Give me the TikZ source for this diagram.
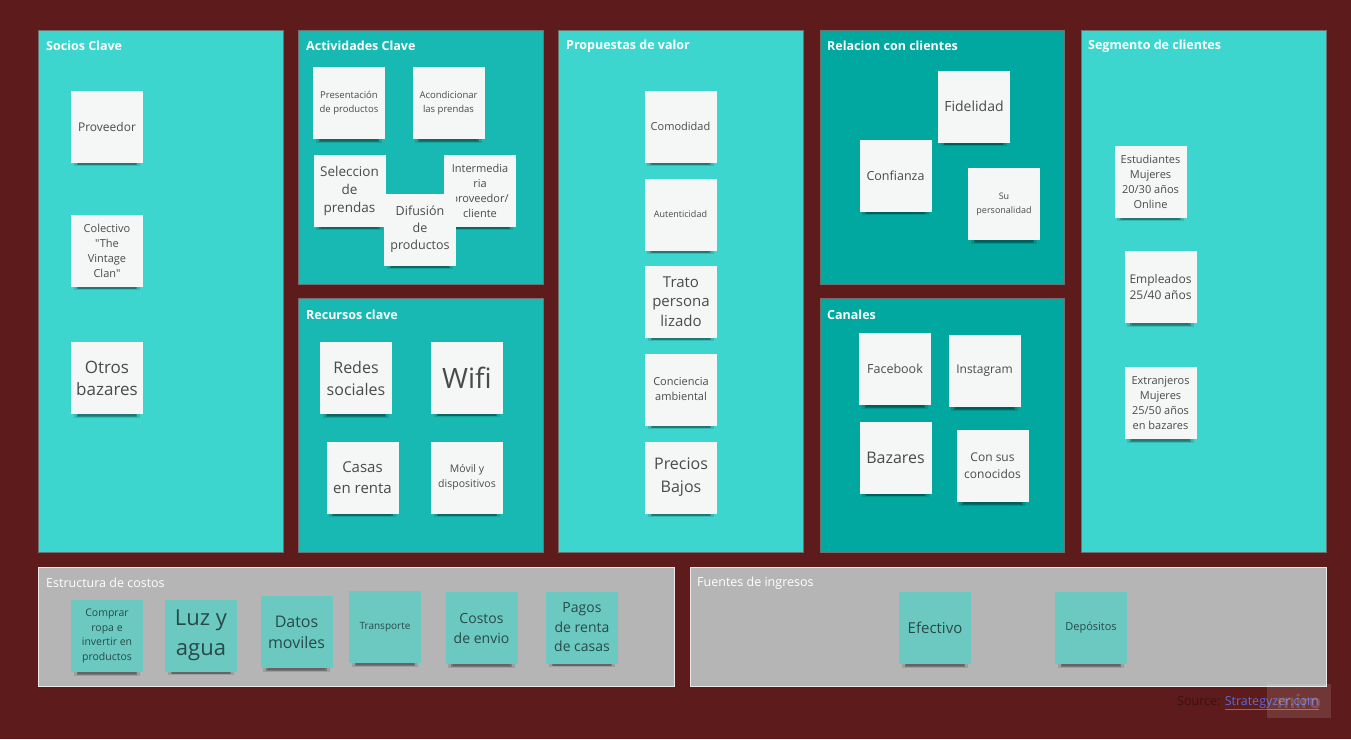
\documentclass[tikz,border=0pt]{standalone}
\usepackage{fontspec}
\setmainfont{Open Sans}[Ligatures=TeXOff]
\usetikzlibrary{shadows}
\definecolor{bgc}{HTML}{5E1B1B}
\definecolor{tealL}{HTML}{3DD6CF}
\definecolor{tealM}{HTML}{17B9B2}
\definecolor{tealD}{HTML}{00A8A0}
\definecolor{greyP}{HTML}{B5B5B5}
\definecolor{pborder}{HTML}{707070}
\definecolor{stickW}{HTML}{F5F7F7}
\definecolor{stickT}{HTML}{6BC9C2}
\definecolor{txtW}{HTML}{4A4A4A}
\definecolor{txtT}{HTML}{274A47}
\definecolor{linkc}{HTML}{5B6BD6}
\definecolor{srcc}{HTML}{3A1212}
\newcommand{\stk}[6][sticky]{\node[#1,font={\fontsize{#5}{#6}\selectfont}] (#2) at (#3) {#4};}
\begin{document}
\begin{tikzpicture}[x=1pt,y=-1pt,
  panel/.style={draw=pborder,line width=0.6pt},
  ptitle/.style={anchor=west,text=white,font={\fontsize{12.5}{14}\selectfont\bfseries},inner sep=0pt},
  sticky/.style={fill=stickW,minimum width=72pt,minimum height=72pt,inner sep=1pt,align=center,text=txtW,
    preaction={general shadow={shadow xshift=0pt,shadow yshift=-7pt,shadow scale=0.92,opacity=0.12,fill=black}},
    preaction={general shadow={shadow xshift=0pt,shadow yshift=-12pt,shadow scale=0.8,opacity=0.15,fill=black}},
    drop shadow={shadow xshift=0pt,shadow yshift=-10pt,shadow scale=0.84,opacity=0.25,fill=black}},
  stickyT/.style={sticky,fill=stickT,text=txtT}]
\fill[bgc] (0,0) rectangle (1351,739);
\useasboundingbox (0,0) rectangle (1351,739);
% panels
\draw[panel,fill=tealL] (38,30) rectangle (283,552);
\draw[panel,fill=tealM] (298,30) rectangle (543,284);
\draw[panel,fill=tealM] (298,298) rectangle (543,552);
\draw[panel,fill=tealL] (558,30) rectangle (803,552);
\draw[panel,fill=tealD] (820,30) rectangle (1064,284);
\draw[panel,fill=tealD] (820,298) rectangle (1064,552);
\draw[panel,fill=tealL] (1081,30) rectangle (1326,552);
\draw[panel,fill=greyP,draw=white!70!greyP] (38,567) rectangle (674,686);
\draw[panel,fill=greyP,draw=white!70!greyP] (690,567) rectangle (1326,686);
% titles
\node[ptitle] (t1) at (46,46) {Socios Clave};
\node[ptitle] (t2) at (306,46) {Actividades Clave};
\node[ptitle] (t3) at (306,315) {Recursos clave};
\node[ptitle] (t4) at (566,46) {Propuestas de valor};
\node[ptitle] (t5) at (827,46) {Relacion con clientes};
\node[ptitle] (t6) at (827,315) {Canales};
\node[ptitle] (t7) at (1088,46) {Segmento de clientes};
\node[ptitle,font={\fontsize{12.5}{14}\selectfont}] (t8) at (46,583) {Estructura de costos};
\node[ptitle,font={\fontsize{12.5}{14}\selectfont}] (t9) at (697,583) {Fuentes de ingresos};
% Socios
\stk{s1}{107,126.5}{Proveedor}{12}{15}
\stk{s2}{107,250.5}{Colectivo\\"The\\Vintage\\Clan"}{11}{15}
\stk{s3}{107,378}{Otros\\bazares}{17}{22}
% Actividades
\stk{a1}{349,103}{Presentación\\de productos}{9.5}{13.5}
\stk{a2}{448.5,103}{Acondicionar\\las prendas}{9.5}{13.5}
\stk{a3}{349.5,190.5}{Seleccion\\de\\prendas}{13.5}{18}
\stk{a4}{480,190.5}{Intermedia\\ria\\proveedor/\\cliente}{11}{15}
\stk{a5}{420,229.5}{Difusión\\de\\productos}{12.5}{17}
% Recursos
\stk{r1}{356,378}{Redes\\sociales}{16}{22}
\stk{r2}{467,377.5}{Wifi}{28}{30}
\stk{r3}{362.5,477.5}{Casas\\en renta}{15}{20.5}
\stk{r4}{467,477.5}{Móvil y\\dispositivos}{10.5}{15}
% Propuestas
\stk{p1}{680.5,126.5}{Comodidad}{11}{14}
\stk{p2}{680.5,214.5}{Autenticidad}{9}{12}
\stk{p3}{681,301.5}{Trato\\persona\\lizado}{15}{19.5}
\stk{p4}{681,389.5}{Conciencia\\ambiental}{11}{15}
\stk{p5}{681,477.5}{Precios\\Bajos}{16}{23}
% Relacion
\stk{c1}{974,106.5}{Fidelidad}{14}{17}
\stk{c2}{895.5,175.5}{Confianza}{12.5}{15}
\stk{c3}{1004,204}{Su\\personalidad}{9}{14}
% Canales
\stk{k1}{895,369}{Facebook}{12.5}{15}
\stk{k2}{984.5,371}{Instagram}{12}{15}
\stk{k3}{895.5,457.5}{Bazares}{16}{19}
\stk{k4}{992.5,466}{Con sus\\conocidos}{12}{17}
% Segmento
\stk{g1}{1150.5,181.5}{Estudiantes\\Mujeres\\20/30 años\\Online}{11}{15}
\stk{g2}{1160.5,287}{Empleados\\25/40 años}{12}{16}
\stk{g3}{1160.5,403}{Extranjeros\\Mujeres\\25/50 años\\en bazares}{11}{15}
% Costos
\stk[stickyT]{e1}{107,636}{Comprar\\ropa e\\invertir en\\productos}{10.5}{14.5}
\stk[stickyT]{e2}{201,635.5}{Luz y\\agua}{22}{30}
\stk[stickyT]{e3}{296.5,632}{Datos\\moviles}{16}{21}
\stk[stickyT]{e4}{385,627}{Transporte}{10}{13}
\stk[stickyT]{e5}{481.5,628}{Costos\\de envio}{14}{20}
\stk[stickyT]{e6}{582,627.5}{Pagos\\de renta\\de casas}{14}{19.5}
% Ingresos
\stk[stickyT]{f1}{935,628}{Efectivo}{15}{18}
\stk[stickyT]{f2}{1091,628}{Depósitos}{11}{14}
% source
\node[anchor=east,inner sep=0pt,font={\fontsize{12.5}{14}\selectfont}] (src) at (1319,703)
  {\textcolor{srcc}{Source: }\textcolor{linkc}{\underline{Strategyzer.com}}};
\node[fill=white,fill opacity=0.12,text opacity=0.15,text=white,minimum width=64pt,minimum height=34pt,
  inner sep=0pt,font={\fontsize{19}{20}\selectfont\bfseries}] (miro) at (1299,701) {miro};
\end{tikzpicture}
\end{document}
